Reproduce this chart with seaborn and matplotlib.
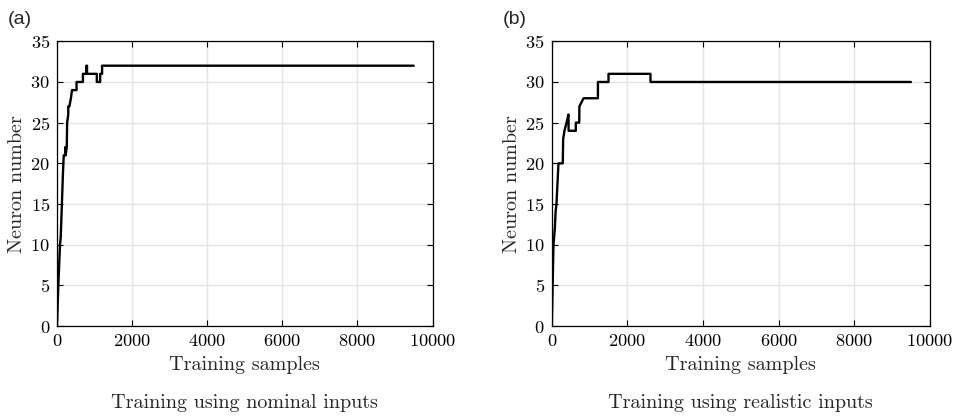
import matplotlib
matplotlib.use('Agg')
import matplotlib.pyplot as plt
import seaborn as sns

# Neuron growth during training (step curves)
nominal_samples = [0, 35, 80, 100, 130, 160, 180, 220, 220, 230, 230, 260, 270, 300, 300, 330,
                   330, 370, 370, 400, 400, 520, 520, 690, 690, 780, 780, 800, 800, 1060,
                   1060, 1150, 1150, 1200, 1200, 9500]
nominal_neurons = [0, 5, 10, 11, 15, 19, 21, 21, 22, 22, 21, 22, 25, 26, 27, 27,
                   27, 28, 28, 29, 29, 29, 30, 30, 31, 31, 32, 32, 31, 31,
                   30, 30, 31, 31, 32, 32]

realistic_samples = [0, 44, 80, 100, 123, 176, 290, 300, 335, 335, 390, 390, 440, 445, 495,
                     635, 635, 725, 730, 730, 840, 840, 1220, 1220, 1500, 1500, 2610, 2610, 9500]
realistic_neurons = [0, 10, 12, 14, 15, 20, 20, 23, 24, 24, 25, 25, 26, 24, 24,
                     24, 25, 25, 27, 27, 28, 28, 28, 30, 30, 31, 31, 30, 30]

panel_labels = ['(a)', '(b)']
captions = ['Training using nominal inputs', 'Training using realistic inputs']

sns.set_theme(style='whitegrid')
plt.rcParams['font.family'] = ['cmr10', 'DejaVu Serif']
plt.rcParams['axes.formatter.use_mathtext'] = True
plt.rcParams['mathtext.fontset'] = 'cm'

fig = plt.figure(figsize=(9.58, 4.17), dpi=100)
ax_a = fig.add_axes([0.0595, 0.218, 0.392, 0.683])
ax_b = fig.add_axes([0.576, 0.218, 0.3946, 0.683])

series = [(nominal_samples, nominal_neurons), (realistic_samples, realistic_neurons)]
for ax, (xs, ys), lab, cap in zip([ax_a, ax_b], series, panel_labels, captions):
    sns.lineplot(x=xs, y=ys, ax=ax, sort=False, estimator=None, color='black', linewidth=1.7)
    ax.set_xlim(0, 10000)
    ax.set_ylim(0, 35)
    ax.set_xticks(range(0, 10001, 2000))
    ax.set_yticks(range(0, 36, 5))
    ax.grid(True, color='#e3e3e3', linewidth=1.0)
    ax.set_facecolor('white')
    for sp in ax.spines.values():
        sp.set_color('black')
        sp.set_linewidth(0.9)
    ax.tick_params(direction='in', length=4, width=0.8, colors='black', labelsize=13.2,
                   top=True, right=True, bottom=True, left=True, pad=5)
    ax.set_xlabel('Training samples', fontsize=14.5, labelpad=5)
    ax.set_ylabel('Neuron number', fontsize=14.5, labelpad=3)
    ax.text(-0.13, 1.076, lab, transform=ax.transAxes, fontsize=14,
            family=['Liberation Sans', 'DejaVu Sans'], ha='left', va='center')
    ax.text(0.5, -0.27, cap, transform=ax.transAxes, fontsize=14.5, ha='center', va='center')

fig.savefig('out.png', dpi=100, facecolor='white')
